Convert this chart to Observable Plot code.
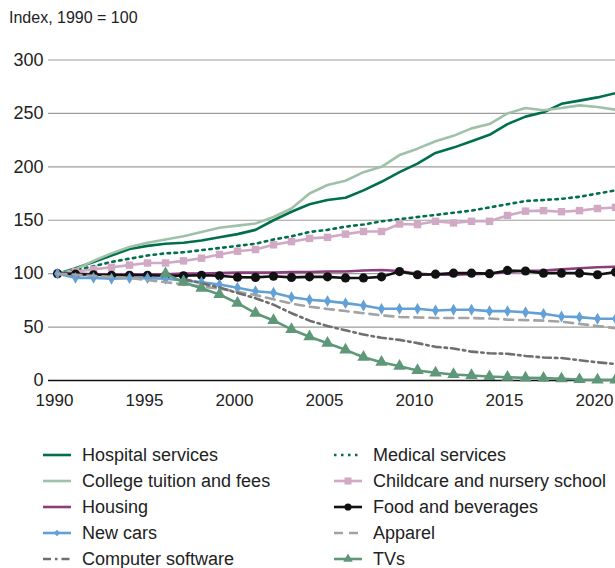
<!DOCTYPE html>
<html>
<head>
<meta charset="utf-8">
<script src="https://cdn.jsdelivr.net/npm/d3@7"></script>
<script src="https://cdn.jsdelivr.net/npm/@observablehq/plot@0.6"></script>
<style>
  html, body { margin: 0; padding: 0; background: #fff; }
  body { width: 615px; height: 568px; overflow: hidden; font-family: "Liberation Sans", Arial, Helvetica, sans-serif; color: #222; }
  #title { height: 40px; line-height: 36px; font-size: 16px; padding-left: 9px; box-sizing: border-box; }
  #chart svg { display: block; }
  #legend { position: relative; height: 128px; font-size: 18px; }
  .item { position: absolute; height: 26px; display: flex; align-items: center; white-space: nowrap; }
  .item svg { margin-right: 11px; flex: none; }
</style>
</head>
<body>
<div id="title">Index, 1990 = 100</div>
<div id="chart"></div>
<div id="legend"></div>
<script>
const years = [1990,1991,1992,1993,1994,1995,1996,1997,1998,1999,2000,2001,2002,2003,2004,2005,2006,2007,2008,2009,2010,2011,2012,2013,2014,2015,2016,2017,2018,2019,2020,2021];
const xTicks = [1990,1995,2000,2005,2010,2015,2020];
const yTicks = [0,50,100,150,200,250,300];

const hospital  = [100,105,111,117,123,126,128,129,131,134,137,141,150,158,165,169,171,178,186,195,203,213,218,224,230,240,247,251,259,262,265,269];
const college   = [100,104,112,119,125,129,132,135,139,143,145,147,153,161,175,183,187,195,200,211,217,224,229,236,240,250,255,253,255,257.5,256,253.5];
const medical   = [100,103,107,111,114,117,119,120,122,124,126,128,132,135,139,141,144,146,149,151,153,155,157,159,162,165,168,169,170,172,175,178];
const childcare = [100,102,104,106,108,110,110,112,114.5,118,121,122.6,127,130,133,134,137,139.5,139.5,146.5,146,149,147.5,149,149,154.5,158.5,159,158,159,161,162];
const housing   = [100,100,99.5,99.5,99.5,99.5,99.5,100,100,100.5,101,101,101,101.5,101.5,102,102,103,103.5,102.5,100,99,99,99.5,100,101.5,102.5,103,104,105,106,106.5];
const food      = [100,99.5,99,98.5,98.5,98.5,98,98,98.5,98,96.7,96.5,97.6,96.5,97,97,96,96,97,102,99,99.5,100.5,100.5,100,103,102.5,100.5,100.5,100.5,99,101.5];
const newcars   = [100,96.1,96.1,95.2,95.8,95.8,95.2,93.6,92,89.9,86.8,83.6,82.1,78,75.6,74.3,72.4,70.2,67.1,67.1,67.1,65.5,66.2,66.2,64.9,64.9,63.9,62.4,59.9,59.3,57.8,57.8];
const apparel   = [100,99,98,97,96,94,92,90,88,86,83,80,76,72,69,67,65,63,61,59.5,59,58.5,58.5,58.5,58,57,56.5,56,55,53,51,49];
const software  = [null,null,null,null,null,null,null,95,91,87,82,77,71,63,56,51,47,43,40,38,35,31.5,30,27,25.5,25,23,21.5,21,19,17,15.5];
const tvs       = [null,null,null,null,null,null,100,92,86.4,80.5,72.4,63,56.2,47.8,41,34.9,28.7,21.8,17.1,13.4,9.4,7.2,5.6,4.7,3.7,3.1,2.5,2.2,1.6,0.9,0.6,0.6];

const series = [
  {name: "Hospital services", values: hospital, color: "#00704a", dash: null, marker: null},
  {name: "College tuition and fees", values: college, color: "#9fc1a8", dash: null, marker: null},
  {name: "Medical services", values: medical, color: "#00704a", dash: "2.5,4.5", marker: null},
  {name: "Childcare and nursery school", values: childcare, color: "#d2a9c4", dash: null, marker: "square"},
  {name: "Housing", values: housing, color: "#8b3d7c", dash: null, marker: null},
  {name: "Food and beverages", values: food, color: "#111111", dash: null, marker: "circle"},
  {name: "New cars", values: newcars, color: "#62a0d6", dash: null, marker: "diamond"},
  {name: "Apparel", values: apparel, color: "#a3a3a3", dash: "9,6", marker: null},
  {name: "Computer software", values: software, color: "#6f6f6f", dash: "8,4,2.5,4", marker: null},
  {name: "TVs", values: tvs, color: "#5f9878", dash: null, marker: "triangle"}
];

const markerR = {square: 4.2, circle: 4.6, diamond: 3.6, triangle: 4.6};

const marks = [
  Plot.gridY(yTicks, {stroke: "#9c9c9c", strokeOpacity: 1, strokeWidth: 1.1}),
  Plot.ruleY([0], {stroke: "#111", strokeWidth: 1.6})
];
for (const s of series) {
  const rows = years.map((yr, i) => ({year: yr, value: s.values[i]})).filter(d => d.value != null);
  marks.push(Plot.line(rows, {x: "year", y: "value", stroke: s.color, strokeWidth: 2.6,
    strokeDasharray: s.dash || undefined, strokeLinejoin: "round"}));
  if (s.marker) {
    marks.push(Plot.dot(rows, {x: "year", y: "value", fill: s.color, stroke: "none",
      symbol: s.marker, r: markerR[s.marker]}));
  }
}
marks.push(Plot.axisY(yTicks, {tickSize: 0, tickPadding: 5, fontSize: 18, label: null}));
marks.push(Plot.axisX(xTicks, {tickSize: 0, tickPadding: 13, fontSize: 17, tickFormat: d => String(d), dx: -3, label: null}));

const chart = Plot.plot({
  width: 615,
  height: 400,
  marginLeft: 48,
  marginRight: 0,
  marginTop: 19.5,
  marginBottom: 60,
  x: {domain: [1989.5, 2021], label: null},
  y: {domain: [0, 300], label: null},
  style: {fontFamily: "'Liberation Sans', Arial, Helvetica, sans-serif", fontSize: "18px", color: "#222", background: "#fff", overflow: "visible"},
  marks
});
document.getElementById("chart").appendChild(chart);

// Legend
const legendOrder = [
  ["Hospital services", "Medical services"],
  ["College tuition and fees", "Childcare and nursery school"],
  ["Housing", "Food and beverages"],
  ["New cars", "Apparel"],
  ["Computer software", "TVs"]
];
const legend = document.getElementById("legend");
const ns = "http://www.w3.org/2000/svg";
const colLeft = [43, 334];
legendOrder.forEach((row, ri) => {
  row.forEach((name, ci) => {
    const s = series.find(d => d.name === name);
    const item = document.createElement("div");
    item.className = "item";
    item.style.left = colLeft[ci] + "px";
    item.style.top = (ri * 26 + 2) + "px";
    const svg = document.createElementNS(ns, "svg");
    svg.setAttribute("width", 28); svg.setAttribute("height", 14);
    const line = document.createElementNS(ns, "line");
    line.setAttribute("x1", 0); line.setAttribute("x2", 28);
    line.setAttribute("y1", 7); line.setAttribute("y2", 7);
    line.setAttribute("stroke", s.color); line.setAttribute("stroke-width", 2.6);
    if (s.dash) line.setAttribute("stroke-dasharray", s.dash);
    svg.appendChild(line);
    if (s.marker) {
      const sym = {square: d3.symbolSquare, circle: d3.symbolCircle, diamond: d3.symbolDiamond2, triangle: d3.symbolTriangle}[s.marker];
      const size = {square: 50, circle: 40, diamond: 28, triangle: 40}[s.marker];
      const p = document.createElementNS(ns, "path");
      p.setAttribute("d", d3.symbol(sym, size)());
      p.setAttribute("transform", "translate(14,7)");
      p.setAttribute("fill", s.color);
      svg.appendChild(p);
    }
    item.appendChild(svg);
    const t = document.createElement("span");
    t.textContent = name;
    item.appendChild(t);
    legend.appendChild(item);
  });
});
</script>
</body>
</html>
